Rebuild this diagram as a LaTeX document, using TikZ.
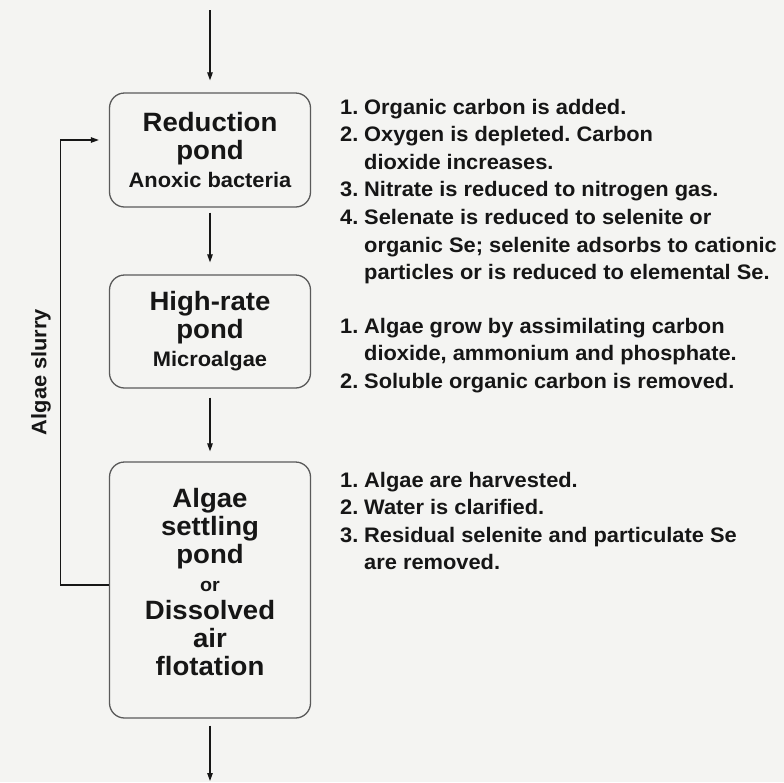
\documentclass[tikz,border=0pt]{standalone}
\usepackage{fontspec}
\setmainfont{Liberation Sans}[FakeStretch=1.04]
\usetikzlibrary{arrows.meta}
\definecolor{paper}{RGB}{244,244,242}
\definecolor{ink}{RGB}{22,22,22}
\definecolor{boxgray}{RGB}{90,90,90}
\newcommand{\listnum}[1]{\makebox[24pt][l]{#1}}
\newcommand{\listgap}{\hspace*{24pt}}
\frenchspacing
\begin{document}
\begin{tikzpicture}[x=1pt,y=-1pt,
  pond/.style={draw=boxgray, line width=1.3pt, rounded corners=15pt,
    minimum width=201pt, align=center, inner sep=0pt, text=ink,
    font=\bfseries\fontsize{26.5}{28}\selectfont},
  arr/.style={draw=ink, line width=1.1pt, -{Triangle[length=8pt,width=5.5pt]}},
  note/.style={anchor=north west, align=left, inner sep=0pt, text=ink,
    font=\bfseries\fontsize{21}{27.6}\selectfont}]
\fill[paper] (0,0) rectangle (784,782);
\useasboundingbox (0,0) rectangle (784,782);

\node[pond, minimum height=114pt] (b1) at (210,150)
  {Reduction\\pond\\{\fontsize{21}{28}\selectfont Anoxic bacteria}};
\node[pond, minimum height=113pt] (b2) at (210,331.5)
  {High-rate\\pond\\{\fontsize{21}{28}\selectfont Microalgae}};
\node[pond, minimum height=256pt] (b3) at (210,590)
  {Algae\\settling\\pond\\{\fontsize{19}{28}\selectfont or}\\Dissolved\\air\\flotation\\[-12pt]\mbox{}};

\coordinate (in) at (210,10);
\coordinate (out) at (210,781);
\draw[arr, shorten >=12pt] (in) -- (b1);
\draw[arr, shorten <=5pt, shorten >=12pt] (b1) -- (b2);
\draw[arr, shorten <=9pt, shorten >=10pt] (b2) -- (b3);
\draw[arr, shorten <=7pt] (b3) -- (out);

\draw[arr, shorten >=10pt] ([yshift=5pt]b3.west) -- ++(-48,0) coordinate (lc)
  |- ([yshift=10pt]b1.west);
\node[rotate=90, inner sep=0pt, text=ink, font=\bfseries\fontsize{21}{24}\selectfont]
  (slurry) at (41,372) {Algae slurry};

\node[note] (n1) at (340,98.7) {%
\listnum{1.}Organic carbon is added.\\
\listnum{2.}Oxygen is depleted. Carbon\\
\listgap dioxide increases.\\
\listnum{3.}Nitrate is reduced to nitrogen gas.\\
\listnum{4.}Selenate is reduced to selenite or\\
\listgap organic Se; selenite adsorbs to cationic\\
\listgap particles or is reduced to elemental Se.};

\node[note] (n2) at (340,317.7) {%
\listnum{1.}Algae grow by assimilating carbon\\
\listgap dioxide, ammonium and phosphate.\\
\listnum{2.}Soluble organic carbon is removed.};

\node[note] (n3) at (340,471.7) {%
\listnum{1.}Algae are harvested.\\
\listnum{2.}Water is clarified.\\
\listnum{3.}Residual selenite and particulate Se\\
\listgap are removed.};
\end{tikzpicture}
\end{document}
